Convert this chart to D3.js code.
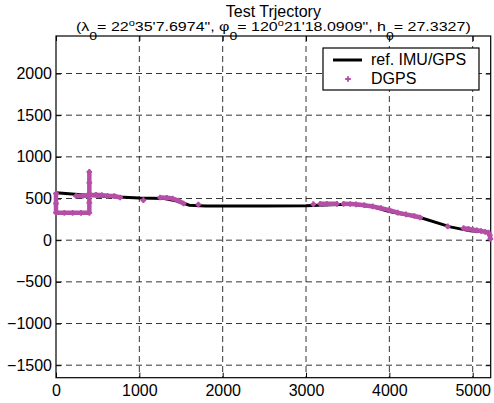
<html>
<head>
    <title>Test Trjectory</title>
    <script src="https://d3js.org/d3.v7.min.js" charset="utf-8"></script>
    <style>
        body { margin: 0; background: #fff; }
        svg { font-family: "Liberation Sans", Arial, sans-serif; }
        .grid line { stroke: #000; stroke-width: 0.8; stroke-dasharray: 6,4; }
    </style>
</head>
<body>
<script>
// reference IMU/GPS trajectory (east, north in m)
var refX = [0, 500, 1000, 1300, 1450, 1600, 1800, 2500, 3000, 3300, 3550, 3800, 4000, 4370, 4730, 4970, 5100, 5170, 5200, 5210];
var refY = [568, 530, 505, 500, 470, 420, 410, 410, 412, 425, 430, 400, 345, 272, 160, 112, 104, 100, 60, 0];

// DGPS fixes, null marks a gap
var gpsX = [0, 0, 0, 100, 200, 300, 400, 400, 400, 400, 400, null,
            240, 320, 400, 480, 550, 620, 700, 770, null,
            1048, null,
            1250, 1330, 1400, 1470, 1530, null,
            1708, null,
            3088, null,
            3170, 3250, 3370, null,
            3450, 3530, 3600, 3700, 3800, 3900, 4000, 4100, 4200, 4300, 4370, null,
            4700, null,
            4890, 4950, 5000, 5050, 5100, 5150, 5190, 5205, 5212];
var gpsY = [560, 440, 330, 328, 328, 328, 328, 450, 560, 690, 820, null,
            530, 532, 535, 545, 540, 532, 530, 512, null,
            480, null,
            512, 508, 500, 475, 440, null,
            428, null,
            432, null,
            436, 436, 436, null,
            436, 434, 430, 420, 405, 385, 360, 330, 310, 290, 272, null,
            165, null,
            144, 135, 125, 118, 110, 100, 90, 60, 15];

var xTicks = [0, 1000, 2000, 3000, 4000, 5000];
var yTicks = [-1500, -1000, -500, 0, 500, 1000, 1500, 2000];

var width = 494, height = 403;
var pL = 56, pR = 490.7, pT = 36, pB = 377.7;

var svg = d3.select("body").append("svg")
    .attr("width", width).attr("height", height);

var x = d3.scaleLinear().domain([0, 5216]).range([pL, pR]);
var y = d3.scaleLinear().domain([-1650, 2450]).range([pB, pT]);
var fmt = d3.format("d");

// grid
var grid = svg.append("g").attr("class", "grid");
grid.selectAll(".gx").data(xTicks.slice(1)).enter().append("line")
    .attr("x1", x).attr("x2", x).attr("y1", pT).attr("y2", pB);
grid.selectAll(".gy").data(yTicks).enter().append("line")
    .attr("x1", pL).attr("x2", pR).attr("y1", y).attr("y2", y);

// axes with inward ticks on all four sides
svg.append("g").attr("transform", "translate(0," + pB + ")")
    .call(d3.axisBottom(x).tickValues(xTicks).tickSizeInner(-5).tickSizeOuter(0).tickPadding(7).tickFormat(fmt));
svg.append("g").attr("transform", "translate(0," + pT + ")")
    .call(d3.axisTop(x).tickValues(xTicks).tickSizeInner(-5).tickSizeOuter(0).tickFormat(""));
svg.append("g").attr("transform", "translate(" + pL + ",0)")
    .call(d3.axisLeft(y).tickValues(yTicks).tickSizeInner(-5).tickSizeOuter(0).tickPadding(4).tickFormat(fmt));
svg.append("g").attr("transform", "translate(" + pR + ",0)")
    .call(d3.axisRight(y).tickValues(yTicks).tickSizeInner(-5).tickSizeOuter(0).tickFormat(""));
svg.selectAll(".domain").remove();
svg.selectAll(".tick line").attr("stroke", "#000");
svg.selectAll(".tick text").attr("font-size", 16).attr("fill", "#000")
    .attr("font-family", "Liberation Sans, Arial, sans-serif");

svg.append("rect").attr("x", pL).attr("y", pT)
    .attr("width", pR - pL).attr("height", pB - pT)
    .attr("fill", "none").attr("stroke", "#000").attr("stroke-width", 1.2);

// reference trajectory
var refPts = refX.map(function(d, i) { return [d, refY[i]]; });
svg.append("path")
    .datum(refPts)
    .attr("fill", "none").attr("stroke", "#000").attr("stroke-width", 3)
    .attr("d", d3.line().x(function(d) { return x(d[0]); }).y(function(d) { return y(d[1]); }));

// DGPS fixes
var pink = "#b44ea6";
var gpsPts = gpsX.map(function(d, i) { return [d, gpsY[i]]; });
svg.append("path")
    .datum(gpsPts)
    .attr("fill", "none").attr("stroke", pink).attr("stroke-width", 4.5)
    .attr("stroke-linecap", "round").attr("stroke-linejoin", "round")
    .attr("d", d3.line().defined(function(d) { return d[0] !== null; })
        .x(function(d) { return x(d[0]); }).y(function(d) { return y(d[1]); }));
var plus = d3.symbol().type(d3.symbolCross).size(18);
svg.append("g").selectAll("path")
    .data(gpsPts.filter(function(d) { return d[0] !== null; }))
    .enter().append("path")
    .attr("d", plus)
    .attr("fill", pink)
    .attr("transform", function(d) { return "translate(" + x(d[0]) + "," + y(d[1]) + ")"; });

// legend
var lg = svg.append("g");
lg.append("rect").attr("x", 323).attr("y", 48).attr("width", 156).attr("height", 42)
    .attr("fill", "#fff").attr("stroke", "#000").attr("stroke-width", 1.2);
lg.append("line").attr("x1", 333).attr("x2", 362).attr("y1", 60).attr("y2", 60)
    .attr("stroke", "#000").attr("stroke-width", 3);
lg.append("path").attr("d", plus).attr("fill", pink).attr("transform", "translate(348,79)");
lg.append("text").attr("x", 371).attr("y", 65).attr("font-size", 16).text("ref. IMU/GPS");
lg.append("text").attr("x", 371).attr("y", 83.5).attr("font-size", 16).text("DGPS");

// title
var cx = (pL + pR) / 2;
svg.append("text").attr("x", cx).attr("y", 17.3).attr("text-anchor", "middle")
    .attr("font-size", 16).text("Test Trjectory");
var t2 = svg.append("text").attr("x", 0).attr("y", 0).attr("text-anchor", "middle")
    .attr("transform", "translate(" + cx + ",30.5) scale(1,0.82)")
    .attr("font-size", 16);
var parts = [["(\u03bb", 0], ["0", -1], ["= 22", 0], ["o", 1], ["35'7.6974\", \u03c6", 0], ["0", -1],
             ["= 120", 0], ["o", 1], ["21'18.0909\", h", 0], ["0", -1], ["= 27.3327)", 0]];
var prev = 0;
parts.forEach(function(p) {
    var ts = t2.append("tspan").text(p[0]);
    var off = p[1] === -1 ? 11 : p[1] === 1 ? -6 : 0;
    if (off - prev !== 0) ts.attr("dy", off - prev);
    if (p[1] === -1) ts.attr("font-size", 14);
    if (p[1] === 1) ts.attr("font-size", 11);
    prev = off;
});
</script>
</body>
</html>
